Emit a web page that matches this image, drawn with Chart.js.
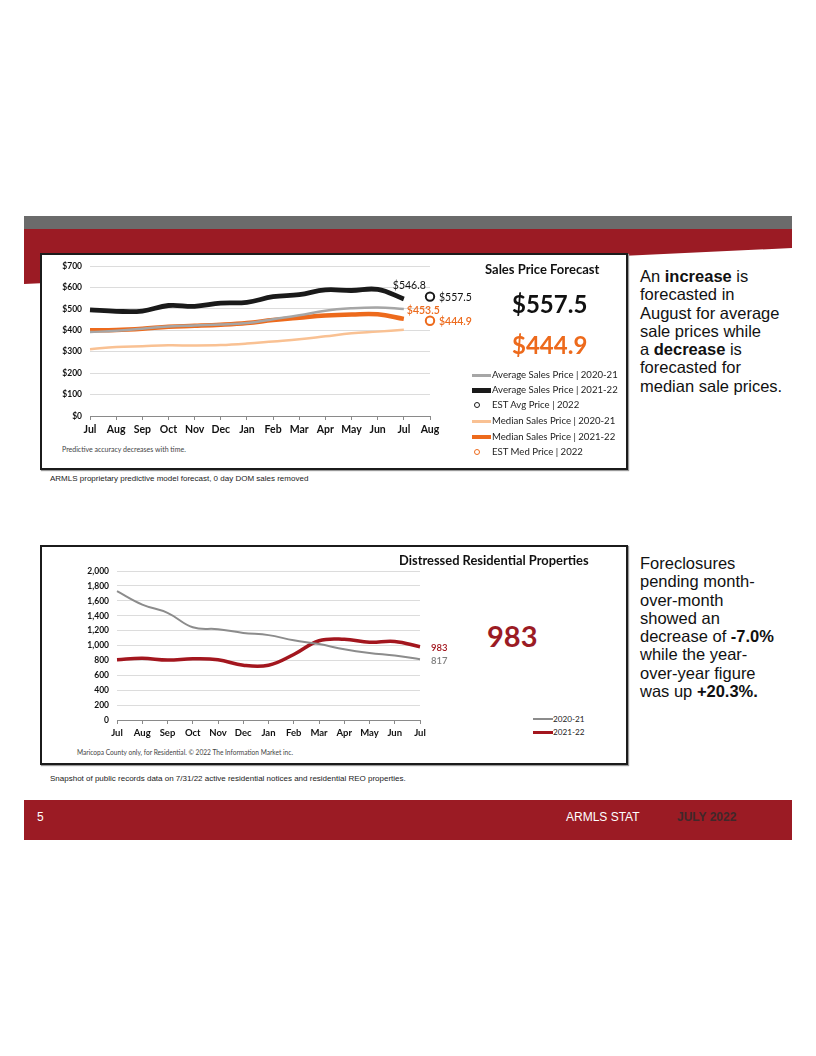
<!DOCTYPE html>
<html><head><meta charset="utf-8">
<script src="https://cdn.jsdelivr.net/npm/chart.js@4.4.0/dist/chart.umd.min.js"></script>
<style>
body{margin:0;background:#fff;}
#page{position:relative;width:816px;height:1056px;overflow:hidden;font-family:"Liberation Sans",Arial,sans-serif;}
.abs{position:absolute;white-space:nowrap;}
.box{position:absolute;box-sizing:border-box;border:2px solid #1b1b1b;background:#fff;box-shadow:1px 1px 1px #999;}
.cal{font-family:Lato,"Open Sans",sans-serif;}
.leg{position:absolute;font-family:Lato,sans-serif;color:#222;line-height:12px;white-space:nowrap;}
.side{position:absolute;left:640px;font-family:"Liberation Sans",Arial,sans-serif;font-size:16.5px;line-height:18.3px;color:#111;}
canvas{position:absolute;}
</style></head><body>
<div id="page">
  <div class="abs" style="left:24px;top:216px;width:768px;height:13px;background:#6b6b6b"></div>
  <div class="abs" style="left:24px;top:229px;width:768px;height:70px;background:#9b1b24;clip-path:polygon(0 0,100% 0,100% 19px,0 55px)"></div>

  <!-- top chart box -->
  <div class="box" style="left:40px;top:253px;width:588px;height:217px"></div>
  <canvas id="c1" style="left:48px;top:253px;width:440px;height:187px" width="440" height="187"></canvas>
  <div class="abs cal" style="left:485px;top:261px;font-size:13px;font-weight:700;color:#111">Sales Price Forecast</div>
  <div class="abs cal" style="left:512px;top:289px;font-size:24px;font-weight:700;color:#111" id="bigAvg"></div>
  <div class="abs cal" style="left:512px;top:330px;font-size:24px;font-weight:700;color:#ed6a1c" id="bigMed"></div>
  <div id="leg1"></div>
  <div class="abs cal" style="left:62px;top:445px;font-size:7px;color:#444">Predictive accuracy decreases with time.</div>
  <div class="abs" style="left:50px;top:474px;font-size:8px;color:#222">ARMLS proprietary predictive model forecast, 0 day DOM sales removed</div>

  <div class="side" style="top:267px">An <b>increase</b> is<br>forecasted in<br>August for average<br>sale prices while<br>a <b>decrease</b> is<br>forecasted for<br>median sale prices.</div>

  <!-- bottom chart box -->
  <div class="box" style="left:40px;top:545px;width:588px;height:220px"></div>
  <canvas id="c2" style="left:77px;top:558px;width:397px;height:186px" width="397" height="186"></canvas>
  <div class="abs cal" style="left:399px;top:552px;font-size:12.9px;font-weight:700;color:#111">Distressed Residential Properties</div>
  <div class="abs cal" style="left:487px;top:618px;font-size:29px;font-weight:700;color:#9b1b24" id="bigDist"></div>
  <div id="leg2"></div>
  <div class="abs cal" style="left:77px;top:748px;font-size:6.6px;color:#444">Maricopa County only, for Residential. © 2022 The Information Market inc.</div>
  <div class="abs" style="left:50px;top:774px;font-size:8px;color:#222">Snapshot of public records data on 7/31/22 active residential notices and residential REO properties.</div>

  <div class="side" style="top:554px">Foreclosures<br>pending month-<br>over-month<br>showed an<br>decrease of <b>-7.0%</b><br>while the year-<br>over-year figure<br>was up <b>+20.3%.</b></div>

  <!-- footer -->
  <div class="abs" style="left:24px;top:800px;width:768px;height:40px;background:#9b1b24"></div>
  <div class="abs" style="left:37px;top:810px;font-size:12px;color:#fff">5</div>
  <div class="abs" style="left:566px;top:810px;font-size:12px;color:#fff">ARMLS STAT</div>
  <div class="abs" style="left:677px;top:810px;font-size:12px;font-weight:700;color:#40282a">JULY 2022</div>
</div>
<script>
// ---------- data: sales price forecast ----------
const priceMonths = ['Jul','Aug','Sep','Oct','Nov','Dec','Jan','Feb','Mar','Apr','May','Jun','Jul','Aug'];
const priceTicks = [0,100,200,300,400,500,600,700];
const avg2021 = [392,398,408,418,423,427,434,452,470,492,503,507,500];
const avg2122 = [496,489,490,516,512,527,531,557,567,589,586,591,546.8];
const estAvg  = [null,null,null,null,null,null,null,null,null,null,null,null,null,557.5];
const med2021 = [312,322,326,330,329,331,338,348,358,372,386,394,403];
const med2122 = [400,402,408,417,421,426,434,448,459,469,474,475,453.5];
const estMed  = [null,null,null,null,null,null,null,null,null,null,null,null,null,444.9];
const priceLegend = ['Average Sales Price | 2020-21','Average Sales Price | 2021-22','EST Avg Price | 2022','Median Sales Price | 2020-21','Median Sales Price | 2021-22','EST Med Price | 2022'];

// ---------- data: distressed properties ----------
const distMonths = ['Jul','Aug','Sep','Oct','Nov','Dec','Jan','Feb','Mar','Apr','May','Jun','Jul'];
const distTicks = [0,200,400,600,800,1000,1200,1400,1600,1800,2000];
const dist2021 = [1730,1550,1440,1245,1220,1170,1140,1070,1020,950,900,865,817];
const dist2122 = [810,828,805,822,810,735,735,880,1065,1085,1045,1055,983];
const distLegend = ['2020-21','2021-22'];

const C = {grey:'#a6a6a6', black:'#1a1a1a', lorange:'#f9c193', orange:'#ed6a1c', dgrey:'#8c8c8c', red:'#a3161e'};
const FONT = 'Lato';

const fmt$ = v => '$' + v.toFixed(1);
document.getElementById('bigAvg').textContent = fmt$(estAvg[13]);
document.getElementById('bigMed').textContent = fmt$(estMed[13]);
document.getElementById('bigDist').textContent = String(dist2122[dist2122.length-1]);

function legend(el, items){
  let h='';
  items.forEach(it=>{
    if(it.kind==='line'){
      h += `<div class="abs" style="left:${it.x}px;top:${it.y - it.w/2}px;width:${it.len}px;height:${it.w}px;background:${it.color}"></div>`;
    } else {
      h += `<div class="abs" style="left:${it.x+2}px;top:${it.y-3.5}px;width:4px;height:4px;border:1.8px solid ${it.color};border-radius:50%"></div>`;
    }
    h += `<div class="leg" style="left:${it.tx}px;top:${it.y-6.5}px;font-size:${it.fs}px">${it.text}</div>`;
  });
  el.innerHTML = h;
}
const ly = [375.5,390.5,405.5,421.5,437,452.5];
const LF = 9.6;
legend(document.getElementById('leg1'), [
  {kind:'line',x:472,len:19,w:2.5,color:C.grey,y:ly[0],tx:492,text:priceLegend[0],fs:LF},
  {kind:'line',x:472,len:19,w:4.5,color:C.black,y:ly[1],tx:492,text:priceLegend[1],fs:LF},
  {kind:'dot',x:472,color:C.black,y:ly[2],tx:492,text:priceLegend[2],fs:LF},
  {kind:'line',x:472,len:19,w:2.5,color:C.lorange,y:ly[3],tx:492,text:priceLegend[3],fs:LF},
  {kind:'line',x:472,len:19,w:4.5,color:C.orange,y:ly[4],tx:492,text:priceLegend[4],fs:LF},
  {kind:'dot',x:472,color:C.orange,y:ly[5],tx:492,text:priceLegend[5],fs:LF}
]);
legend(document.getElementById('leg2'), [
  {kind:'line',x:533,len:20,w:2,color:C.dgrey,y:719,tx:553,text:distLegend[0],fs:8.2},
  {kind:'line',x:533,len:20,w:3.5,color:C.red,y:732.5,tx:553,text:distLegend[1],fs:8.2}
]);

const labelPlugin = {
  id:'valLabels',
  afterDatasetsDraw(chart, args, opts){
    const ctx = chart.ctx;
    (opts.items||[]).forEach(it=>{
      const meta = chart.getDatasetMeta(it.ds);
      const el = meta.data[it.idx];
      if(!el) return;
      const v = chart.data.datasets[it.ds].data[it.idx];
      ctx.save();
      ctx.font = `${it.weight||'400'} ${it.size}px ${FONT}`;
      ctx.fillStyle = it.color;
      ctx.textAlign = 'left';
      ctx.textBaseline = 'middle';
      ctx.fillText(it.fmt(v), el.x + it.dx, el.y + it.dy);
      ctx.restore();
    });
  }
};

function lineDs(data, color, width){
  return {data, borderColor:color, backgroundColor:color, borderWidth:width, pointRadius:0, tension:0.4, fill:false, borderCapStyle:'butt'};
}
function estDs(data, color){
  return {data, showLine:false, pointRadius:4.2, pointHoverRadius:4.2, pointBorderWidth:2, pointBorderColor:color, pointBackgroundColor:'#fff'};
}

const baseScales = (ticks, fmt, yWidth, xFont, yFont) => ({
  x:{
    offset:false,
    grid:{display:true, drawOnChartArea:false, drawTicks:true, tickLength:4, color:'#8a8a8a'},
    border:{display:true, color:'#8a8a8a', width:1},
    ticks:{font:{family:FONT, size:xFont, weight:'700'}, color:'#111', padding:3, maxRotation:0, autoSkip:false},
    afterFit(s){ s.height = 24; }
  },
  y:{
    min:ticks[0], max:ticks[ticks.length-1],
    afterBuildTicks(s){ s.ticks = ticks.map(v=>({value:v})); },
    grid:{color:'#dcdcdc', drawTicks:false, lineWidth:1},
    border:{display:false},
    ticks:{font:{family:FONT, size:yFont, weight:'700'}, color:'#111', padding:8, callback:fmt},
    afterFit(s){ s.width = yWidth; }
  }
});

new Chart(document.getElementById('c1'), {
  type:'line',
  data:{labels:priceMonths, datasets:[
    lineDs(med2021, C.lorange, 2.5),
    lineDs(avg2021, C.grey, 2.5),
    lineDs(med2122, C.orange, 4.5),
    lineDs(avg2122, C.black, 4.8),
    estDs(estAvg, C.black),
    estDs(estMed, C.orange)
  ]},
  options:{
    responsive:false, animation:false, devicePixelRatio:1,
    layout:{padding:{top:10, right:58, left:0, bottom:0}},
    plugins:{legend:{display:false}, tooltip:{enabled:false},
      valLabels:{items:[
        {ds:3, idx:12, dx:-11, dy:-13, size:10.5, color:'#111', fmt:fmt$},
        {ds:4, idx:13, dx:9, dy:1, size:10.5, color:'#111', fmt:fmt$},
        {ds:2, idx:12, dx:3, dy:-8, size:10.5, color:C.orange, weight:'600', fmt:fmt$},
        {ds:5, idx:13, dx:9, dy:1, size:10.5, color:C.orange, weight:'600', fmt:fmt$}
      ]}},
    scales: baseScales(priceTicks, v=>'$'+v, 42, 10.5, 8.5)
  },
  plugins:[labelPlugin]
});

new Chart(document.getElementById('c2'), {
  type:'line',
  data:{labels:distMonths, datasets:[
    lineDs(dist2021, C.dgrey, 2),
    lineDs(dist2122, C.red, 3.5)
  ]},
  options:{
    responsive:false, animation:false, devicePixelRatio:1,
    layout:{padding:{top:10, right:54, left:0, bottom:0}},
    plugins:{legend:{display:false}, tooltip:{enabled:false},
      valLabels:{items:[
        {ds:1, idx:12, dx:11, dy:1, size:9.5, color:C.red, weight:'600', fmt:v=>String(v)},
        {ds:0, idx:12, dx:11, dy:2, size:9.5, color:'#7f7f7f', weight:'600', fmt:v=>String(v)}
      ]}},
    scales: baseScales(distTicks, v=>v.toLocaleString('en-US'), 40, 9.5, 8.5)
  },
  plugins:[labelPlugin]
});
</script>
</body></html>
